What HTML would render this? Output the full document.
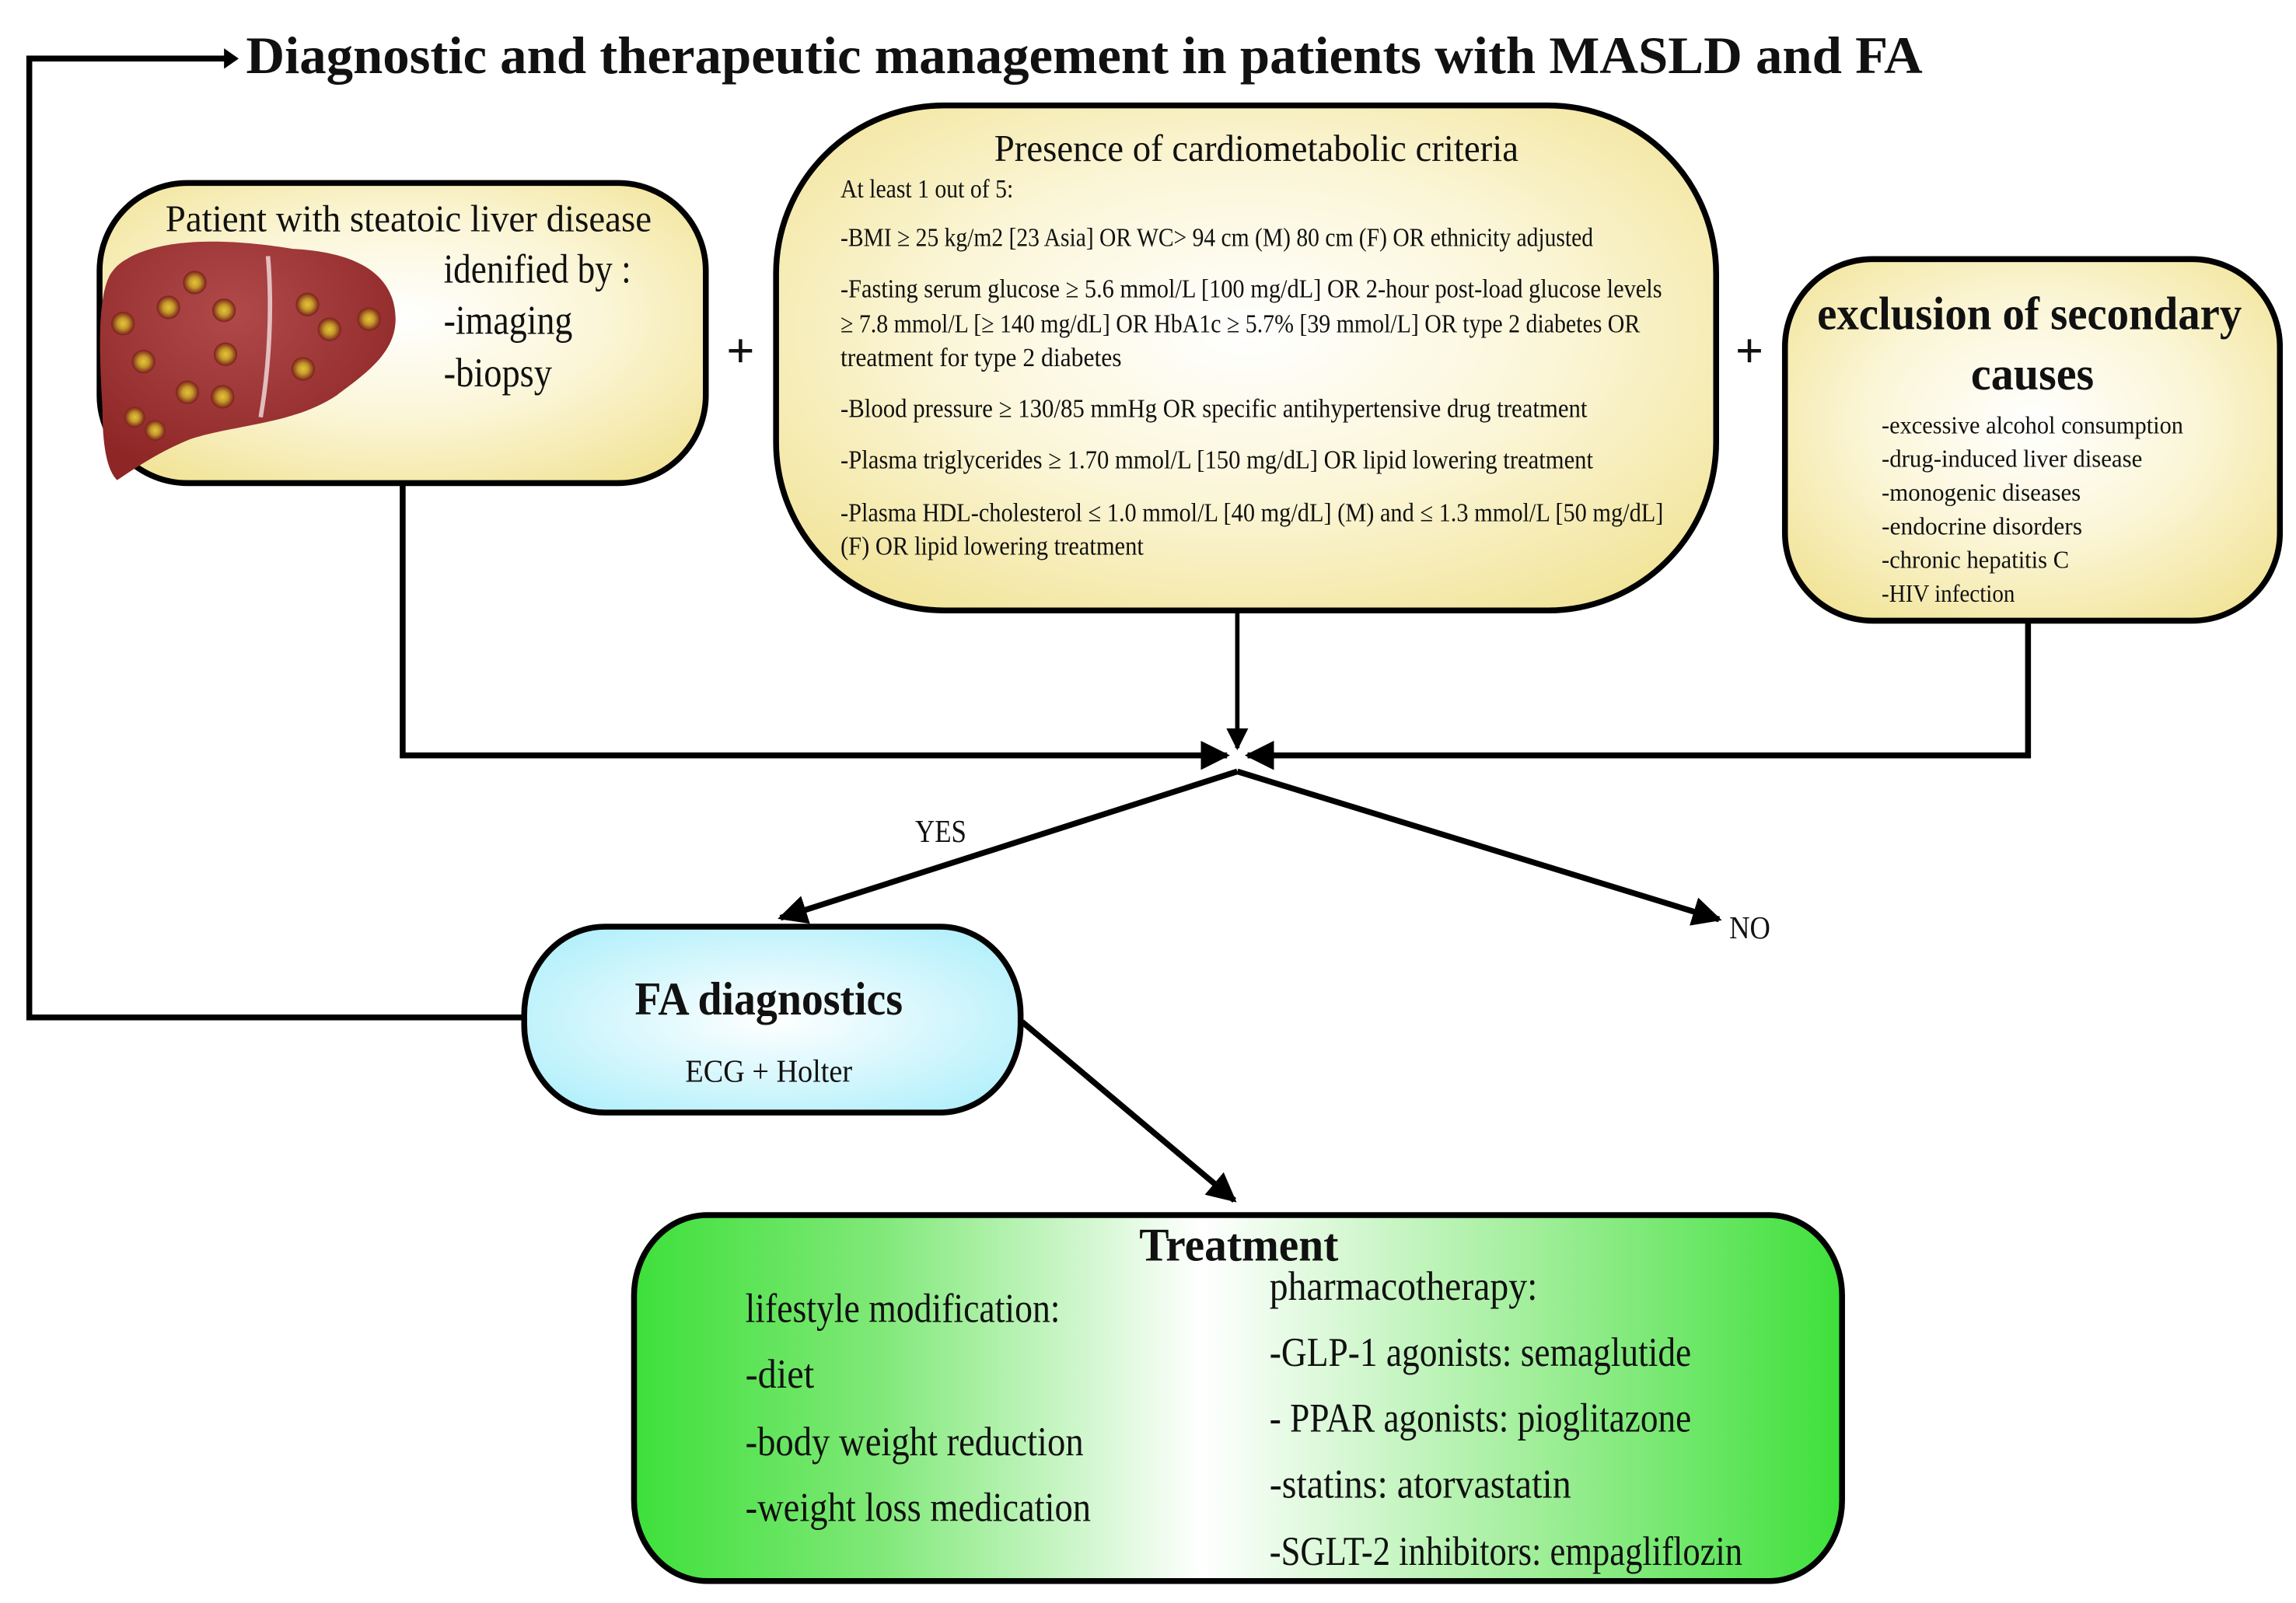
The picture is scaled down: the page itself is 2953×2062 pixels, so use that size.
<!DOCTYPE html>
<html><head><meta charset="utf-8"><style>
html,body{margin:0;padding:0;background:#fff;}
svg{display:block;}
text{font-family:"Liberation Serif","DejaVu Serif",serif;fill:#111;}
</style></head><body>
<svg width="2953" height="2062" viewBox="0 0 1568 1095" preserveAspectRatio="none" xmlns="http://www.w3.org/2000/svg">
<defs>
<radialGradient id="yel" cx="50%" cy="45%" r="65%">
<stop offset="0" stop-color="#ffffff"/><stop offset="0.5" stop-color="#fbf6d8"/><stop offset="1" stop-color="#f2e49a"/></radialGradient>
<radialGradient id="cy" cx="50%" cy="50%" r="60%">
<stop offset="0" stop-color="#ffffff"/><stop offset="1" stop-color="#b4f0fb"/></radialGradient>
<linearGradient id="gr" x1="0" y1="0" x2="1" y2="0">
<stop offset="0" stop-color="#3ee03a"/><stop offset="0.2" stop-color="#7fe877"/><stop offset="0.47" stop-color="#ffffff"/><stop offset="0.75" stop-color="#9fee98"/><stop offset="1" stop-color="#3ee03a"/></linearGradient>
<radialGradient id="liv" cx="45%" cy="30%" r="70%">
<stop offset="0" stop-color="#b04a4a"/><stop offset="1" stop-color="#8e2626"/></radialGradient>
<radialGradient id="dot" cx="50%" cy="50%" r="50%">
<stop offset="0" stop-color="#e8c23a"/><stop offset="0.45" stop-color="#c49a2a"/><stop offset="1" stop-color="#7a1c1c"/></radialGradient>
<marker id="ah" viewBox="0 0 10 10" refX="9" refY="5" markerWidth="5" markerHeight="5" orient="auto"><path d="M0,0 L10,5 L0,10 z" fill="#000"/></marker>
</defs>

<polyline points="358,695 20,695 20,40 155,40" fill="none" stroke="#000" stroke-width="4"/>
<path d="M153,33 L163,40 L153,47 z" fill="#000"/>
<text x="168" y="50" font-size="36" font-weight="bold" textLength="1145" lengthAdjust="spacingAndGlyphs">Diagnostic and therapeutic management in patients with MASLD and FA</text>

<rect x="68" y="125" width="414" height="205" rx="60" ry="60" fill="url(#yel)" stroke="#000" stroke-width="4"/>
<text x="113" y="158" font-size="26" textLength="332" lengthAdjust="spacingAndGlyphs">Patient with steatoic liver disease</text>
<text x="303" y="193" font-size="28" textLength="128" lengthAdjust="spacingAndGlyphs">idenified by :</text>
<text x="303" y="228" font-size="28" textLength="88" lengthAdjust="spacingAndGlyphs">-imaging</text>
<text x="303" y="264" font-size="28" textLength="74" lengthAdjust="spacingAndGlyphs">-biopsy</text>
<path d="M90,175 C120,160 170,165 200,170 C240,172 268,185 270,215 C272,240 250,255 230,270 C200,290 160,290 130,300 C110,308 95,318 80,328 C72,320 70,300 70,280 C68,245 66,205 75,188 C80,180 85,178 90,175 z" fill="url(#liv)"/>
<path d="M183,175 C186,210 184,250 178,285" stroke="#f4dede" stroke-width="3" fill="none" opacity="0.8"/>
<g fill="url(#dot)">
<circle cx="133" cy="193" r="8"/><circle cx="115" cy="210" r="8"/><circle cx="153" cy="212" r="8"/><circle cx="84" cy="221" r="8"/>
<circle cx="210" cy="208" r="8"/><circle cx="252" cy="218" r="8"/><circle cx="225" cy="225" r="8"/><circle cx="154" cy="242" r="8"/>
<circle cx="98" cy="247" r="8"/><circle cx="207" cy="252" r="8"/><circle cx="128" cy="268" r="8"/><circle cx="152" cy="271" r="8"/>
<circle cx="92" cy="285" r="7"/><circle cx="106" cy="294" r="7"/>
</g>

<text x="496" y="251" font-size="34" font-weight="bold">+</text>
<text x="1185" y="251" font-size="34" font-weight="bold">+</text>

<rect x="530" y="72" width="642" height="345" rx="115" ry="115" fill="url(#yel)" stroke="#000" stroke-width="4"/>
<text x="858" y="110" font-size="26" text-anchor="middle" textLength="358" lengthAdjust="spacingAndGlyphs">Presence of cardiometabolic criteria</text>
<g font-size="18">
<text x="574" y="135" textLength="118" lengthAdjust="spacingAndGlyphs">At least 1 out of 5:</text>
<text x="574" y="168" textLength="514" lengthAdjust="spacingAndGlyphs">-BMI ≥ 25 kg/m2 [23 Asia] OR WC&gt; 94 cm (M) 80 cm (F) OR ethnicity adjusted</text>
<text x="574" y="203" textLength="561" lengthAdjust="spacingAndGlyphs">-Fasting serum glucose ≥ 5.6 mmol/L [100 mg/dL] OR 2-hour post-load glucose levels</text>
<text x="574" y="227" textLength="546" lengthAdjust="spacingAndGlyphs">≥ 7.8 mmol/L [≥ 140 mg/dL] OR HbA1c ≥ 5.7% [39 mmol/L] OR type 2 diabetes OR</text>
<text x="574" y="250" textLength="192" lengthAdjust="spacingAndGlyphs">treatment for type 2 diabetes</text>
<text x="574" y="285" textLength="510" lengthAdjust="spacingAndGlyphs">-Blood pressure ≥ 130/85 mmHg OR specific antihypertensive drug treatment</text>
<text x="574" y="320" textLength="514" lengthAdjust="spacingAndGlyphs">-Plasma triglycerides ≥ 1.70 mmol/L [150 mg/dL] OR lipid lowering treatment</text>
<text x="574" y="356" textLength="562" lengthAdjust="spacingAndGlyphs">-Plasma HDL-cholesterol ≤ 1.0 mmol/L [40 mg/dL] (M) and ≤ 1.3 mmol/L [50 mg/dL]</text>
<text x="574" y="379" textLength="207" lengthAdjust="spacingAndGlyphs">(F) OR lipid lowering treatment</text>
</g>

<rect x="1219" y="177" width="338" height="247" rx="60" ry="60" fill="url(#yel)" stroke="#000" stroke-width="4"/>
<text x="1386" y="225" font-size="32" font-weight="bold" text-anchor="middle" textLength="290" lengthAdjust="spacingAndGlyphs">exclusion of secondary</text>
<text x="1388" y="266" font-size="32" font-weight="bold" text-anchor="middle" textLength="84" lengthAdjust="spacingAndGlyphs">causes</text>
<g font-size="17">
<text x="1285" y="296" textLength="206" lengthAdjust="spacingAndGlyphs">-excessive alcohol consumption</text>
<text x="1285" y="319" textLength="178" lengthAdjust="spacingAndGlyphs">-drug-induced liver disease</text>
<text x="1285" y="342" textLength="136" lengthAdjust="spacingAndGlyphs">-monogenic diseases</text>
<text x="1285" y="365" textLength="137" lengthAdjust="spacingAndGlyphs">-endocrine disorders</text>
<text x="1285" y="388" textLength="128" lengthAdjust="spacingAndGlyphs">-chronic hepatitis C</text>
<text x="1285" y="411" textLength="91" lengthAdjust="spacingAndGlyphs">-HIV infection</text>
</g>

<polyline points="275,330 275,516 838,516" fill="none" stroke="#000" stroke-width="4" marker-end="url(#ah)"/>
<polyline points="1385,424 1385,516 852,516" fill="none" stroke="#000" stroke-width="4" marker-end="url(#ah)"/>
<line x1="845" y1="417" x2="845" y2="511" stroke="#000" stroke-width="3" marker-end="url(#ah)"/>
<line x1="845" y1="527" x2="533" y2="627" stroke="#000" stroke-width="4" marker-end="url(#ah)"/>
<line x1="845" y1="527" x2="1174" y2="628" stroke="#000" stroke-width="4" marker-end="url(#ah)"/>
<text x="625" y="575" font-size="22" textLength="35" lengthAdjust="spacingAndGlyphs">YES</text>
<text x="1181" y="641" font-size="22" textLength="28" lengthAdjust="spacingAndGlyphs">NO</text>

<rect x="358" y="633" width="339" height="127" rx="55" ry="60" fill="url(#cy)" stroke="#000" stroke-width="4"/>
<text x="525" y="693" font-size="32" font-weight="bold" text-anchor="middle" textLength="183" lengthAdjust="spacingAndGlyphs">FA diagnostics</text>
<text x="525" y="739" font-size="22" text-anchor="middle" textLength="114" lengthAdjust="spacingAndGlyphs">ECG + Holter</text>
<line x1="698" y1="698" x2="843" y2="820" stroke="#000" stroke-width="4" marker-end="url(#ah)"/>

<rect x="433" y="830" width="825" height="250" rx="50" ry="55" fill="url(#gr)" stroke="#000" stroke-width="4"/>
<text x="846" y="861" font-size="32" font-weight="bold" text-anchor="middle" textLength="136" lengthAdjust="spacingAndGlyphs">Treatment</text>
<g font-size="28">
<text x="509" y="903" textLength="215" lengthAdjust="spacingAndGlyphs">lifestyle modification:</text>
<text x="509" y="948" textLength="47" lengthAdjust="spacingAndGlyphs">-diet</text>
<text x="509" y="994" textLength="231" lengthAdjust="spacingAndGlyphs">-body weight reduction</text>
<text x="509" y="1039" textLength="236" lengthAdjust="spacingAndGlyphs">-weight loss medication</text>
<text x="867" y="888" textLength="183" lengthAdjust="spacingAndGlyphs">pharmacotherapy:</text>
<text x="867" y="933" textLength="288" lengthAdjust="spacingAndGlyphs">-GLP-1 agonists: semaglutide</text>
<text x="867" y="978" textLength="288" lengthAdjust="spacingAndGlyphs">- PPAR agonists: pioglitazone</text>
<text x="867" y="1023" textLength="206" lengthAdjust="spacingAndGlyphs">-statins: atorvastatin</text>
<text x="867" y="1069" textLength="323" lengthAdjust="spacingAndGlyphs">-SGLT-2 inhibitors: empagliflozin</text>
</g>
</svg>
</body></html>
